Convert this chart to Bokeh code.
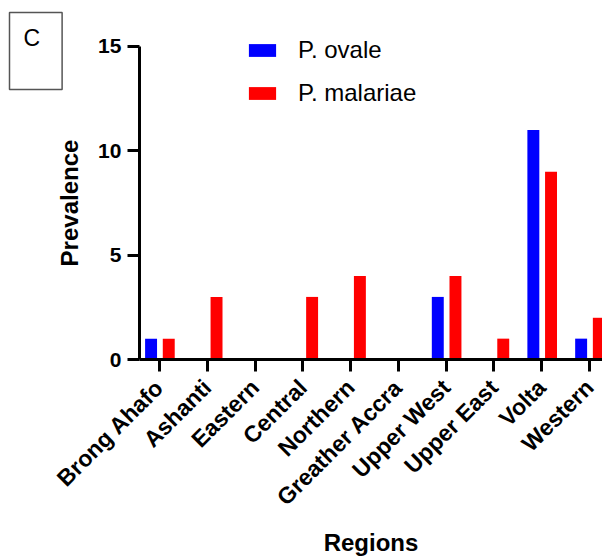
import math
from bokeh.plotting import figure
from bokeh.models import (ColumnDataSource, FixedTicker, Legend, LegendItem, Label, Range1d)
from bokeh.transform import dodge
from bokeh.embed import file_html
from bokeh.resources import INLINE

regions = ["Brong Ahafo", "Ashanti", "Eastern", "Central", "Northern",
           "Greather Accra", "Upper West", "Upper East", "Volta", "Western"]
p_ovale = [1, 0, 0, 0, 0, 0, 3, 0, 11, 1]
p_malariae = [1, 3, 0, 3, 4, 0, 4, 1, 9, 2]
y_ticks = [0, 5, 10, 15]

xs = list(range(len(regions)))
src = ColumnDataSource(dict(x=xs, ovale=p_ovale, malariae=p_malariae))

FONT = "Liberation Sans"

# frame covers the whole canvas; axes are pinned with fixed_location
X0, X1 = -3.326, 9.272
Y0, Y1 = -9.583, 17.204
X_AXIS_START = -0.418

p = figure(width=602, height=559, output_backend="svg", toolbar_location=None,
           x_range=Range1d(X0, X1), y_range=Range1d(Y0, Y1),
           min_border=0, min_border_left=0, min_border_right=0,
           min_border_top=0, min_border_bottom=0)

b1 = p.vbar(x=dodge("x", -0.175), top="ovale", width=0.25, source=src,
            fill_color="#0000ff", line_color=None)
b2 = p.vbar(x=dodge("x", 0.195), top="malariae", width=0.25, source=src,
            fill_color="#ff0000", line_color=None)

p.outline_line_color = None
p.xgrid.visible = False
p.ygrid.visible = False
p.background_fill_color = "white"
p.border_fill_color = "white"

for ax in (p.xaxis[0], p.yaxis[0]):
    ax.axis_line_width = 3
    ax.axis_line_color = "black"
    ax.major_tick_line_width = 3
    ax.major_tick_line_color = "black"
    ax.major_tick_out = 12
    ax.major_tick_in = 0
    ax.minor_tick_line_color = None
    ax.major_label_text_font = FONT
    ax.major_label_text_font_style = "bold"
    ax.major_label_text_color = "black"
    ax.axis_label_text_font = FONT
    ax.axis_label_text_font_style = "bold"
    ax.axis_label_text_font_size = "24px"
    ax.axis_label_text_color = "black"

p.yaxis.fixed_location = X_AXIS_START
p.yaxis.bounds = (0, 15)
p.yaxis.ticker = FixedTicker(ticks=y_ticks)
p.yaxis.major_label_text_font_size = "21px"
p.yaxis.major_label_standoff = 6
p.yaxis.axis_label = "Prevalence"
p.yaxis.axis_label_standoff = 12

p.xaxis.fixed_location = 0
p.xaxis.bounds = (X_AXIS_START, X1 + 0.1)
p.xaxis.ticker = FixedTicker(ticks=xs)
p.xaxis.major_label_overrides = {i: r for i, r in enumerate(regions)}
p.xaxis.major_label_orientation = math.pi / 4
p.xaxis.major_label_text_font_size = "23px"
p.xaxis.major_label_standoff = 12
p.xaxis.axis_label = "Regions"
p.xaxis.axis_label_standoff = 7

legend = Legend(items=[LegendItem(label="P. ovale", renderers=[b1]),
                       LegendItem(label="P. malariae", renderers=[b2])],
                location=(245, 452), orientation="vertical",
                glyph_width=34, glyph_height=16, label_height=16, spacing=15,
                label_standoff=19, padding=0, margin=0,
                label_text_font=FONT, label_text_font_size="24px",
                label_text_color="black",
                border_line_color=None, background_fill_alpha=0)
p.add_layout(legend, "center")

lab = Label(x=9, y=547, x_units="screen", y_units="screen", text="C",
            text_font=FONT, text_font_size="23px", text_align="left",
            text_color="black",
            text_baseline="top", border_line_color="#555555", border_line_width=1.5,
            background_fill_color="white",
            padding=dict(left=14, right=22, top=12, bottom=39))
p.add_layout(lab)

open("out.html", "w").write(file_html(p, INLINE))
